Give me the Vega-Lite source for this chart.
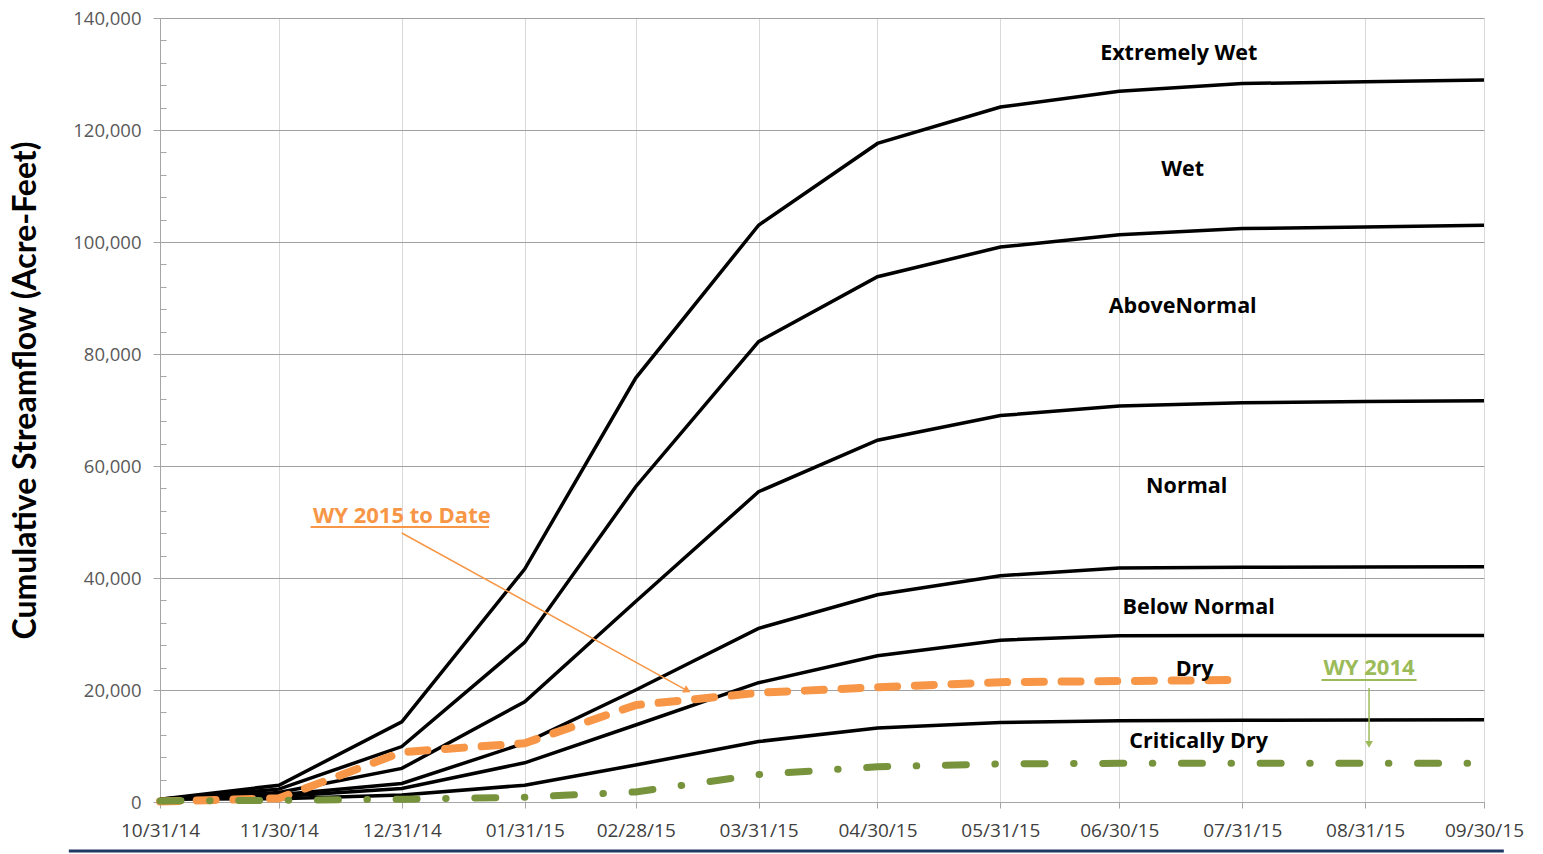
{
  "$schema": "https://vega.github.io/schema/vega-lite/v6.json",
  "width": 1324,
  "height": 784,
  "autosize": {"type": "none"},
  "padding": {"left": 160, "top": 18, "right": 59, "bottom": 52},
  "background": "white",
  "config": {"view": {"stroke": null}, "font": "Open Sans"},
  "datasets": {
    "classes": [
      {"series": "Extremely Wet", "date": "2014-10-31", "value": 500},
      {"series": "Extremely Wet", "date": "2014-11-30", "value": 3000},
      {"series": "Extremely Wet", "date": "2014-12-31", "value": 14300},
      {"series": "Extremely Wet", "date": "2015-01-31", "value": 41600},
      {"series": "Extremely Wet", "date": "2015-02-28", "value": 75700},
      {"series": "Extremely Wet", "date": "2015-03-31", "value": 103000},
      {"series": "Extremely Wet", "date": "2015-04-30", "value": 117600},
      {"series": "Extremely Wet", "date": "2015-05-31", "value": 124100},
      {"series": "Extremely Wet", "date": "2015-06-30", "value": 126900},
      {"series": "Extremely Wet", "date": "2015-07-31", "value": 128300},
      {"series": "Extremely Wet", "date": "2015-08-31", "value": 128600},
      {"series": "Extremely Wet", "date": "2015-09-30", "value": 128950},
      {"series": "Wet", "date": "2014-10-31", "value": 500},
      {"series": "Wet", "date": "2014-11-30", "value": 2300},
      {"series": "Wet", "date": "2014-12-31", "value": 9900},
      {"series": "Wet", "date": "2015-01-31", "value": 28500},
      {"series": "Wet", "date": "2015-02-28", "value": 56300},
      {"series": "Wet", "date": "2015-03-31", "value": 82200},
      {"series": "Wet", "date": "2015-04-30", "value": 93800},
      {"series": "Wet", "date": "2015-05-31", "value": 99100},
      {"series": "Wet", "date": "2015-06-30", "value": 101300},
      {"series": "Wet", "date": "2015-07-31", "value": 102400},
      {"series": "Wet", "date": "2015-08-31", "value": 102700},
      {"series": "Wet", "date": "2015-09-30", "value": 103000},
      {"series": "Above Normal", "date": "2014-10-31", "value": 500},
      {"series": "Above Normal", "date": "2014-11-30", "value": 1700},
      {"series": "Above Normal", "date": "2014-12-31", "value": 6000},
      {"series": "Above Normal", "date": "2015-01-31", "value": 17900},
      {"series": "Above Normal", "date": "2015-02-28", "value": 35800},
      {"series": "Above Normal", "date": "2015-03-31", "value": 55400},
      {"series": "Above Normal", "date": "2015-04-30", "value": 64600},
      {"series": "Above Normal", "date": "2015-05-31", "value": 69000},
      {"series": "Above Normal", "date": "2015-06-30", "value": 70700},
      {"series": "Above Normal", "date": "2015-07-31", "value": 71300},
      {"series": "Above Normal", "date": "2015-08-31", "value": 71500},
      {"series": "Above Normal", "date": "2015-09-30", "value": 71650},
      {"series": "Normal", "date": "2014-10-31", "value": 500},
      {"series": "Normal", "date": "2014-11-30", "value": 1300},
      {"series": "Normal", "date": "2014-12-31", "value": 3300},
      {"series": "Normal", "date": "2015-01-31", "value": 10500},
      {"series": "Normal", "date": "2015-02-28", "value": 20000},
      {"series": "Normal", "date": "2015-03-31", "value": 31000},
      {"series": "Normal", "date": "2015-04-30", "value": 37000},
      {"series": "Normal", "date": "2015-05-31", "value": 40400},
      {"series": "Normal", "date": "2015-06-30", "value": 41800},
      {"series": "Normal", "date": "2015-07-31", "value": 41900},
      {"series": "Normal", "date": "2015-08-31", "value": 41950},
      {"series": "Normal", "date": "2015-09-30", "value": 42000},
      {"series": "Below Normal", "date": "2014-10-31", "value": 500},
      {"series": "Below Normal", "date": "2014-11-30", "value": 1000},
      {"series": "Below Normal", "date": "2014-12-31", "value": 2400},
      {"series": "Below Normal", "date": "2015-01-31", "value": 7000},
      {"series": "Below Normal", "date": "2015-02-28", "value": 13750},
      {"series": "Below Normal", "date": "2015-03-31", "value": 21300},
      {"series": "Below Normal", "date": "2015-04-30", "value": 26100},
      {"series": "Below Normal", "date": "2015-05-31", "value": 28900},
      {"series": "Below Normal", "date": "2015-06-30", "value": 29700},
      {"series": "Below Normal", "date": "2015-07-31", "value": 29750},
      {"series": "Below Normal", "date": "2015-08-31", "value": 29750},
      {"series": "Below Normal", "date": "2015-09-30", "value": 29750},
      {"series": "Dry", "date": "2014-10-31", "value": 500},
      {"series": "Dry", "date": "2014-11-30", "value": 600},
      {"series": "Dry", "date": "2014-12-31", "value": 1250},
      {"series": "Dry", "date": "2015-01-31", "value": 3000},
      {"series": "Dry", "date": "2015-02-28", "value": 6600},
      {"series": "Dry", "date": "2015-03-31", "value": 10800},
      {"series": "Dry", "date": "2015-04-30", "value": 13200},
      {"series": "Dry", "date": "2015-05-31", "value": 14200},
      {"series": "Dry", "date": "2015-06-30", "value": 14500},
      {"series": "Dry", "date": "2015-07-31", "value": 14600},
      {"series": "Dry", "date": "2015-08-31", "value": 14650},
      {"series": "Dry", "date": "2015-09-30", "value": 14700}
    ],
    "wy2015": [
      {"date": "2014-10-31", "value": 100},
      {"date": "2014-11-30", "value": 650},
      {"date": "2014-12-31", "value": 8900},
      {"date": "2015-01-31", "value": 10500},
      {"date": "2015-02-28", "value": 17300},
      {"date": "2015-03-31", "value": 19500},
      {"date": "2015-04-30", "value": 20500},
      {"date": "2015-05-31", "value": 21400},
      {"date": "2015-06-30", "value": 21600},
      {"date": "2015-07-31", "value": 21800}
    ],
    "wy2014": [
      {"date": "2014-10-31", "value": 200},
      {"date": "2014-11-30", "value": 300},
      {"date": "2014-12-31", "value": 500},
      {"date": "2015-01-31", "value": 850},
      {"date": "2015-02-28", "value": 1800},
      {"date": "2015-03-31", "value": 4900},
      {"date": "2015-04-30", "value": 6300},
      {"date": "2015-05-31", "value": 6800},
      {"date": "2015-06-30", "value": 6900},
      {"date": "2015-07-31", "value": 6900},
      {"date": "2015-08-31", "value": 6900},
      {"date": "2015-09-30", "value": 6900}
    ],
    "labels": [
      {"date": "2015-07-15", "value": 133570, "text": "Extremely Wet"},
      {"date": "2015-07-16", "value": 112860, "text": "Wet"},
      {"date": "2015-07-16", "value": 88390, "text": "AboveNormal"},
      {"date": "2015-07-17", "value": 56250, "text": "Normal"},
      {"date": "2015-07-20", "value": 34640, "text": "Below Normal"},
      {"date": "2015-07-19", "value": 23570, "text": "Dry"},
      {"date": "2015-07-20", "value": 10710, "text": "Critically Dry"}
    ],
    "orangeNote": [
      {"date": "2014-12-31", "value": 51070, "text": "WY 2015 to Date", "date2": "2014-12-08", "date3": "2015-01-22", "uline": 49100}
    ],
    "orangeArrow": [
      {"date": "2014-12-31", "value": 48040, "date2": "2015-03-13", "value2": 19900}
    ],
    "orangeHead": [
      {"date": "2015-03-13", "value": 19900}
    ],
    "greenNote": [
      {"date": "2015-09-01", "value": 23930, "text": "WY 2014", "date2": "2015-08-20", "date3": "2015-09-13", "uline": 21800}
    ],
    "greenArrow": [
      {"date": "2015-09-01", "value": 20360, "date2": "2015-09-01", "value2": 10300}
    ],
    "greenHead": [
      {"date": "2015-09-01", "value": 10300}
    ],
    "frame": [
      {"date": "2014-10-08", "value": -8750, "date2": "2015-10-05", "value2": -8750}
    ]
  },
  "layer": [
    {
      "data": {"name": "classes"},
      "mark": {"type": "line", "color": "black", "strokeWidth": 3.5},
      "encoding": {
        "x": {
          "field": "date", "type": "temporal",
          "scale": {"type": "utc", "nice": false, "domain": [{"year": 2014, "month": 10, "date": 31, "utc": true}, {"year": 2015, "month": 9, "date": 30, "utc": true}]},
          "axis": {
            "title": null,
            "values": [
              {"year": 2014, "month": 10, "date": 31, "utc": true},
              {"year": 2014, "month": 11, "date": 30, "utc": true},
              {"year": 2014, "month": 12, "date": 31, "utc": true},
              {"year": 2015, "month": 1, "date": 31, "utc": true},
              {"year": 2015, "month": 2, "date": 28, "utc": true},
              {"year": 2015, "month": 3, "date": 31, "utc": true},
              {"year": 2015, "month": 4, "date": 30, "utc": true},
              {"year": 2015, "month": 5, "date": 31, "utc": true},
              {"year": 2015, "month": 6, "date": 30, "utc": true},
              {"year": 2015, "month": 7, "date": 31, "utc": true},
              {"year": 2015, "month": 8, "date": 31, "utc": true},
              {"year": 2015, "month": 9, "date": 30, "utc": true}
            ],
            "tickCount": 40,
            "format": "%m/%d/%y",
            "grid": true, "gridColor": "#d9d9d9", "gridWidth": 1,
            "tickColor": "#a6a6a6", "tickSize": 6,
            "domainColor": "#a6a6a6",
            "labelFontSize": 19, "labelColor": "#404040", "labelPadding": 13,
            "labelFlush": false, "labelOverlap": false
          }
        },
        "y": {
          "field": "value", "type": "quantitative",
          "scale": {"domain": [0, 140000], "nice": false},
          "axis": {
            "values": [0, 4000, 8000, 12000, 16000, 20000, 24000, 28000, 32000, 36000, 40000, 44000, 48000, 52000, 56000, 60000, 64000, 68000, 72000, 76000, 80000, 84000, 88000, 92000, 96000, 100000, 104000, 108000, 112000, 116000, 120000, 124000, 128000, 132000, 136000, 140000],
            "tickCount": 100,
            "labelExpr": "datum.value % 20000 === 0 ? format(datum.value, ',') : ''",
            "labelOverlap": false,
            "grid": true,
            "gridColor": {"condition": {"test": "datum.value % 20000 === 0", "value": "#a0a0a0"}, "value": "rgba(0,0,0,0)"},
            "tickSize": {"condition": {"test": "datum.value % 20000 === 0", "value": 7}, "value": -6},
            "tickColor": "#a6a6a6",
            "domainColor": "#a6a6a6",
            "labelFontSize": 18.5, "labelColor": "#595959", "labelPadding": 12,
            "title": "Cumulative Streamflow (Acre-Feet)",
            "titleFont": "Lato", "titleFontSize": 32, "titleFontWeight": "bold", "titleColor": "black",
            "titleX": -135, "titleY": 372, "titleAngle": -90, "titleAlign": "center", "titleBaseline": "middle"
          }
        },
        "detail": {"field": "series"}
      }
    },
    {
      "data": {"name": "wy2015"},
      "mark": {"type": "line", "color": "#F79646", "strokeWidth": 8, "strokeDash": [19, 17.7], "strokeCap": "round"},
      "encoding": {
        "x": {"field": "date", "type": "temporal"},
        "y": {"field": "value", "type": "quantitative"}
      }
    },
    {
      "data": {"name": "wy2014"},
      "mark": {"type": "line", "color": "#77933C", "strokeWidth": 7, "strokeDash": [21, 28.55, 0.5, 28.65], "strokeCap": "round"},
      "encoding": {
        "x": {"field": "date", "type": "temporal"},
        "y": {"field": "value", "type": "quantitative"}
      }
    },
    {
      "data": {"name": "labels"},
      "mark": {"type": "text", "font": "Open Sans", "fontSize": 21.5, "fontWeight": "bold", "color": "black", "align": "center", "baseline": "middle"},
      "encoding": {
        "x": {"field": "date", "type": "temporal"},
        "y": {"field": "value", "type": "quantitative"},
        "text": {"field": "text"}
      }
    },
    {
      "data": {"name": "orangeNote"},
      "mark": {"type": "text", "font": "Open Sans", "fontSize": 22, "fontWeight": "bold", "color": "#F79646", "align": "center", "baseline": "middle"},
      "encoding": {
        "x": {"field": "date", "type": "temporal"},
        "y": {"field": "value", "type": "quantitative"},
        "text": {"field": "text"}
      }
    },
    {
      "data": {"name": "orangeNote"},
      "mark": {"type": "rule", "color": "#F79646", "strokeWidth": 2},
      "encoding": {
        "x": {"field": "date2", "type": "temporal"},
        "x2": {"field": "date3"},
        "y": {"field": "uline", "type": "quantitative"}
      }
    },
    {
      "data": {"name": "orangeArrow"},
      "mark": {"type": "rule", "color": "#F79646", "strokeWidth": 1.5},
      "encoding": {
        "x": {"field": "date", "type": "temporal"},
        "x2": {"field": "date2"},
        "y": {"field": "value", "type": "quantitative"},
        "y2": {"field": "value2"}
      }
    },
    {
      "data": {"name": "orangeHead"},
      "mark": {"type": "point", "shape": "triangle-right", "angle": 28.8, "size": 70, "filled": true, "color": "#F79646", "opacity": 1},
      "encoding": {
        "x": {"field": "date", "type": "temporal"},
        "y": {"field": "value", "type": "quantitative"}
      }
    },
    {
      "data": {"name": "greenNote"},
      "mark": {"type": "text", "font": "Open Sans", "fontSize": 22, "fontWeight": "bold", "color": "#9BBB59", "align": "center", "baseline": "middle"},
      "encoding": {
        "x": {"field": "date", "type": "temporal"},
        "y": {"field": "value", "type": "quantitative"},
        "text": {"field": "text"}
      }
    },
    {
      "data": {"name": "greenNote"},
      "mark": {"type": "rule", "color": "#9BBB59", "strokeWidth": 2},
      "encoding": {
        "x": {"field": "date2", "type": "temporal"},
        "x2": {"field": "date3"},
        "y": {"field": "uline", "type": "quantitative"}
      }
    },
    {
      "data": {"name": "greenArrow"},
      "mark": {"type": "rule", "color": "#9BBB59", "strokeWidth": 1.5},
      "encoding": {
        "x": {"field": "date", "type": "temporal"},
        "x2": {"field": "date2"},
        "y": {"field": "value", "type": "quantitative"},
        "y2": {"field": "value2"}
      }
    },
    {
      "data": {"name": "greenHead"},
      "mark": {"type": "point", "shape": "triangle-down", "size": 60, "filled": true, "color": "#9BBB59", "opacity": 1},
      "encoding": {
        "x": {"field": "date", "type": "temporal"},
        "y": {"field": "value", "type": "quantitative"}
      }
    },
    {
      "data": {"name": "frame"},
      "mark": {"type": "rule", "color": "#1F3864", "strokeWidth": 3, "clip": false},
      "encoding": {
        "x": {"field": "date", "type": "temporal"},
        "x2": {"field": "date2"},
        "y": {"field": "value", "type": "quantitative"},
        "y2": {"field": "value2"}
      }
    }
  ]
}
